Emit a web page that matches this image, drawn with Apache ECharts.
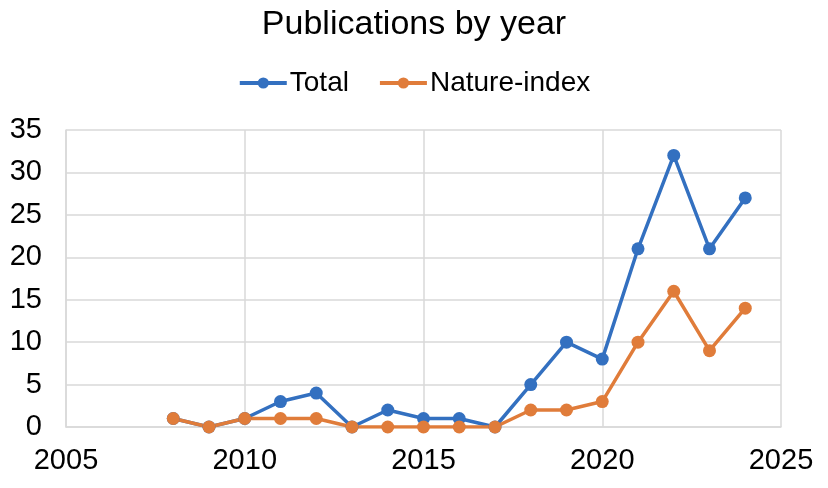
<!DOCTYPE html>
<html><head><meta charset="utf-8">
<script src="https://cdn.jsdelivr.net/npm/echarts@6/dist/echarts.min.js"></script>
<style>html,body{margin:0;padding:0;background:#fff;}#c{width:828px;height:488px;}</style>
</head><body><div id="c"></div>
<script>
const years = [2008,2009,2010,2011,2012,2013,2014,2015,2016,2017,2018,2019,2020,2021,2022,2023,2024];
const total = [1,0,1,3,4,0,2,1,1,0,5,10,8,21,32,21,27];
const natureIndex = [1,0,1,1,1,0,0,0,0,0,2,2,3,10,16,9,14];
const font = '"Liberation Sans", Arial, sans-serif';
const chart = echarts.init(document.getElementById('c'));
const gl = {color:'#d9d9d9', width:1.5};
chart.setOption({
  animation:false,
  title:{text:'Publications by year', left:'center', top:3, textStyle:{fontFamily:font, fontSize:34, fontWeight:'normal', color:'#000'}},
  legend:{top:64, left:'center', itemWidth:47, itemHeight:14, itemGap:29, lineStyle:{width:4},
    textStyle:{fontFamily:font, fontSize:28, color:'#000', padding:[0,0,0,-2]}, data:['Total','Nature-index']},
  grid:{left:66, right:47, top:130, bottom:61},
  xAxis:{type:'value', min:2005, max:2025, interval:5,
    axisLine:{show:true, lineStyle:gl}, axisTick:{show:false},
    splitLine:{show:true, lineStyle:gl},
    axisLabel:{fontFamily:font, fontSize:29, color:'#000', margin:19, formatter:v=>String(v)}},
  yAxis:{type:'value', min:0, max:35, interval:5,
    axisLine:{show:true, lineStyle:gl}, axisTick:{show:false},
    splitLine:{show:true, lineStyle:gl},
    axisLabel:{fontFamily:font, fontSize:29, color:'#000', margin:24}},
  series:[
    {name:'Total', type:'line', data:years.map((y,i)=>[y,total[i]]), symbol:'circle', symbolSize:13,
     lineStyle:{color:'#3370c0', width:3.5}, itemStyle:{color:'#3370c0'}},
    {name:'Nature-index', type:'line', data:years.map((y,i)=>[y,natureIndex[i]]), symbol:'circle', symbolSize:13,
     lineStyle:{color:'#e07c3a', width:3.5}, itemStyle:{color:'#e07c3a'}}
  ]
});
</script></body></html>
